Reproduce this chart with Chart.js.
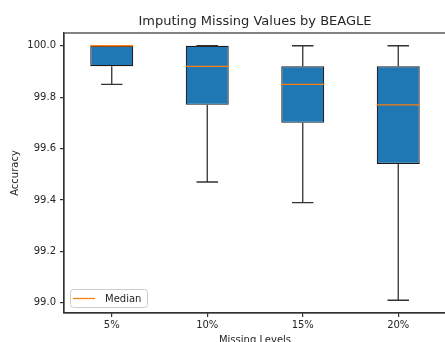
<!DOCTYPE html>
<html>
<head>
<meta charset="utf-8">
<script src="https://cdn.jsdelivr.net/npm/chart.js@4/dist/chart.umd.min.js"></script>
<style>
html, body { margin: 0; padding: 0; background: #fff; overflow: hidden; }
#wrap { width: 445px; height: 342px; overflow: hidden; }
</style>
</head>
<body>
<div id="wrap"><canvas id="myChart" width="447" height="352"></canvas></div>
<script>
// box plot values
const levels = ['5%', '10%', '15%', '20%'];
const mins = [99.85, 99.47, 99.39, 99.01];
const q1s = [99.92, 99.77, 99.70, 99.54];
const medians = [100.0, 99.92, 99.85, 99.77];
const q3s = [100.0, 100.0, 99.92, 99.92];
const maxs = [100.0, 100.0, 100.0, 100.0];
const yTicks = [99.0, 99.2, 99.4, 99.6, 99.8, 100.0];
const chartTitle = 'Imputing Missing Values by BEAGLE';

const lo = Math.min(...mins), hi = Math.max(...maxs);
const margin = (hi - lo) * 0.05;

const font10 = { family: 'DejaVu Sans', size: 10 };
const ink = '#262626';

// whiskers, caps, medians, frame, title and legend
const boxPlugin = {
    id: 'boxExtras',
    afterDatasetsDraw(chart) {
        const c = chart.ctx;
        const x = chart.scales.x, y = chart.scales.y;
        const meta = chart.getDatasetMeta(0);
        c.save();
        c.lineWidth = 1.3;
        levels.forEach((l, i) => {
            const cx = x.getPixelForValue(i);
            const w = meta.data[i].width;
            c.strokeStyle = '#333';
            c.beginPath();
            c.moveTo(cx, y.getPixelForValue(q1s[i]));
            c.lineTo(cx, y.getPixelForValue(mins[i]));
            c.moveTo(cx, y.getPixelForValue(q3s[i]));
            c.lineTo(cx, y.getPixelForValue(maxs[i]));
            c.moveTo(cx - w / 4, y.getPixelForValue(mins[i]));
            c.lineTo(cx + w / 4, y.getPixelForValue(mins[i]));
            c.moveTo(cx - w / 4, y.getPixelForValue(maxs[i]));
            c.lineTo(cx + w / 4, y.getPixelForValue(maxs[i]));
            c.stroke();
            c.strokeStyle = '#ff7f0e';
            c.beginPath();
            const my = y.getPixelForValue(medians[i]);
            c.moveTo(cx - w / 2, my);
            c.lineTo(cx + w / 2, my);
            c.stroke();
        });
        const a = chart.chartArea;
        c.lineWidth = 1.2;
        c.strokeStyle = '#333';
        c.strokeRect(a.left, a.top, a.right - a.left, a.bottom - a.top);

        // title centred over the plot area
        c.fillStyle = ink;
        c.font = '13px "DejaVu Sans"';
        c.textAlign = 'center';
        c.textBaseline = 'middle';
        c.fillText(chartTitle, (a.left + a.right) / 2, 22);

        // legend box in lower left
        const lx = a.left + 6, ly = a.bottom - 24, lw = 77, lh = 18;
        c.lineWidth = 1;
        c.fillStyle = 'rgba(255,255,255,0.8)';
        c.strokeStyle = '#cccccc';
        c.beginPath();
        c.roundRect(lx + 0.5, ly + 0.5, lw, lh, 3);
        c.fill();
        c.stroke();
        c.lineWidth = 1.3;
        c.strokeStyle = '#ff7f0e';
        c.beginPath();
        c.moveTo(lx + 3, ly + 9.5);
        c.lineTo(lx + 25, ly + 9.5);
        c.stroke();
        c.fillStyle = ink;
        c.font = '10px "DejaVu Sans"';
        c.textAlign = 'left';
        c.fillText('Median', lx + 35, ly + 10);
        c.restore();
    }
};

const ctx = document.getElementById('myChart');

new Chart(ctx, {
    type: 'bar',
    data: {
        labels: levels,
        datasets: [{
            label: 'box',
            data: levels.map((l, i) => [q1s[i], q3s[i]]),
            backgroundColor: '#1f77b4',
            borderColor: '#1a1a1a',
            borderWidth: 1.2,
            borderSkipped: false,
            barPercentage: 0.45,
            categoryPercentage: 1
        }]
    },
    options: {
        responsive: false,
        animation: false,
        layout: { padding: { top: 33, left: 0, right: 1, bottom: 0 } },
        plugins: {
            legend: { display: false },
            tooltip: { enabled: false }
        },
        scales: {
            x: {
                afterFit: s => { s.height = 352 - 313; },
                grid: { display: true, offset: false, drawOnChartArea: false, drawTicks: true, tickLength: 4, color: '#333', lineWidth: 1.2 },
                border: { display: true, color: '#333', width: 1.2 },
                ticks: { color: ink, font: font10, padding: 2 },
                title: { display: true, text: 'Missing Levels', color: ink, font: font10, padding: { top: 3, bottom: 6 } }
            },
            y: {
                min: lo - margin,
                max: hi + margin,
                afterFit: s => { s.width = 64; },
                afterBuildTicks: s => { s.ticks = yTicks.map(v => ({ value: v })); },
                grid: { display: true, drawOnChartArea: false, drawTicks: true, tickLength: 4, color: '#333', lineWidth: 1.2 },
                border: { display: true, color: '#333', width: 1.2 },
                ticks: { color: ink, font: font10, padding: 4, callback: v => v.toFixed(1) },
                title: { display: true, text: 'Accuracy', color: ink, font: font10, padding: { top: 9, bottom: 0 } }
            }
        }
    },
    plugins: [boxPlugin]
});
</script>
</body>
</html>
